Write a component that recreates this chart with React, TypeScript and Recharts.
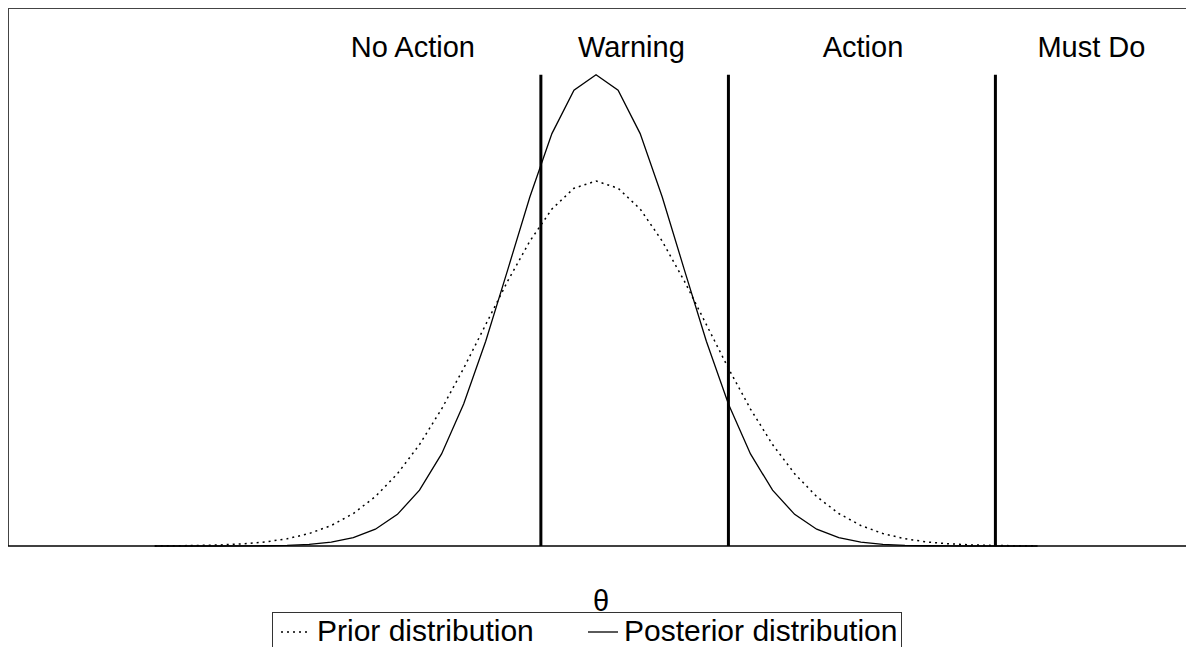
import React from 'react';
import {
  LineChart,
  Line,
  XAxis,
  YAxis,
  ReferenceLine,
  ReferenceDot,
  Legend
} from 'recharts';

// theta grid, -4..4 by 0.2
const theta = [
  -4, -3.8, -3.6, -3.4, -3.2, -3, -2.8, -2.6, -2.4, -2.2, -2, -1.8, -1.6, -1.4,
  -1.2, -1, -0.8, -0.6, -0.4, -0.2, 0, 0.2, 0.4, 0.6, 0.8, 1, 1.2, 1.4, 1.6,
  1.8, 2, 2.2, 2.4, 2.6, 2.8, 3, 3.2, 3.4, 3.6, 3.8, 4
];

const prior = [
  0.0001, 0.0003, 0.0006, 0.0012, 0.0024, 0.0044, 0.0079, 0.0136, 0.0224,
  0.0355, 0.054, 0.079, 0.1109, 0.1497, 0.1942, 0.242, 0.2897, 0.3332, 0.3683,
  0.391, 0.3989, 0.391, 0.3683, 0.3332, 0.2897, 0.242, 0.1942, 0.1497, 0.1109,
  0.079, 0.054, 0.0355, 0.0224, 0.0136, 0.0079, 0.0044, 0.0024, 0.0012, 0.0006,
  0.0003, 0.0001
];

const posterior = [
  0, 0, 0, 0, 0.0001, 0.0003, 0.0007, 0.0018, 0.0042, 0.0091, 0.0184, 0.0346,
  0.061, 0.1006, 0.1551, 0.2238, 0.3021, 0.3815, 0.4507, 0.4981, 0.515, 0.4981,
  0.4507, 0.3815, 0.3021, 0.2238, 0.1551, 0.1006, 0.061, 0.0346, 0.0184,
  0.0091, 0.0042, 0.0018, 0.0007, 0.0003, 0.0001, 0, 0, 0, 0
];

const cutoffs = [-0.5, 1.2, 3.62];
const cutoffTop = 0.515;

const zoneNames = ['No Action', 'Warning', 'Action', 'Must Do'];
const zoneCenters = [-1.66, 0.32, 2.42, 4.49];

const xDomain = [-5.33, 5.42];
const yDomain = [0, 0.588];

const data = theta.map((t, i) => ({ theta: t, prior: prior[i], posterior: posterior[i] }));

const font = '"Liberation Sans", Arial, Helvetica, sans-serif';

function LegendBox() {
  // columns are equal width, like base R's horizontal legend
  return (
    <div
      style={{
        border: '1px solid #333',
        height: 46,
        boxSizing: 'border-box',
        display: 'flex',
        alignItems: 'flex-start',
        paddingTop: 1,
        paddingLeft: 8,
        fontFamily: font,
        fontSize: 30,
        lineHeight: '34px',
        color: '#000',
        whiteSpace: 'nowrap'
      }}
    >
      <svg width={30} height={34} style={{ marginRight: 6 }}>
        <line x1={0} y1={18} x2={30} y2={18} stroke="#000" strokeWidth={1.5} strokeDasharray="2 4" />
      </svg>
      <span style={{ display: 'inline-block', width: 271 }}>Prior distribution</span>
      <svg width={30} height={34} style={{ marginRight: 6 }}>
        <line x1={0} y1={18} x2={30} y2={18} stroke="#000" strokeWidth={1.3} />
      </svg>
      <span>Posterior distribution</span>
    </div>
  );
}

export default function App() {
  return (
    <LineChart
      width={1186}
      height={650}
      data={data}
      margin={{ top: 0, right: 0, bottom: 0, left: 0 }}
      style={{ fontFamily: font }}
    >
      <XAxis
        dataKey="theta"
        type="number"
        domain={xDomain}
        height={66}
        tick={false}
        tickLine={false}
        axisLine={{ stroke: '#000', strokeWidth: 1.5 }}
        label={{ value: 'θ', position: 'insideTop', offset: 44, fill: '#000', fontSize: 29 }}
      />
      <YAxis domain={yDomain} width={0} tick={false} tickLine={false} axisLine={false} />
      {/* frame: top and left edges */}
      <ReferenceLine y={yDomain[1]} stroke="#444" strokeWidth={2} />
      <ReferenceLine x={xDomain[0]} stroke="#444" strokeWidth={2} />
      <Line
        dataKey="prior"
        name="Prior distribution"
        stroke="#000"
        strokeWidth={1.5}
        strokeDasharray="2 4"
        dot={false}
        type="linear"
        isAnimationActive={false}
      />
      <Line
        dataKey="posterior"
        name="Posterior distribution"
        stroke="#000"
        strokeWidth={1.3}
        dot={false}
        type="linear"
        isAnimationActive={false}
      />
      {cutoffs.map((c) => (
        <ReferenceLine
          key={c}
          segment={[{ x: c, y: 0 }, { x: c, y: cutoffTop }]}
          stroke="#000"
          strokeWidth={3}
        />
      ))}
      {zoneNames.map((name, i) => (
        <ReferenceDot
          key={name}
          x={zoneCenters[i]}
          y={0.546}
          r={0}
          stroke="none"
          fill="none"
          label={{ value: name, position: 'center', fill: '#000', fontSize: 29 }}
        />
      ))}
      <Legend
        verticalAlign="bottom"
        content={() => <LegendBox />}
        wrapperStyle={{ left: 264, width: 630, height: 46 }}
      />
    </LineChart>
  );
}
